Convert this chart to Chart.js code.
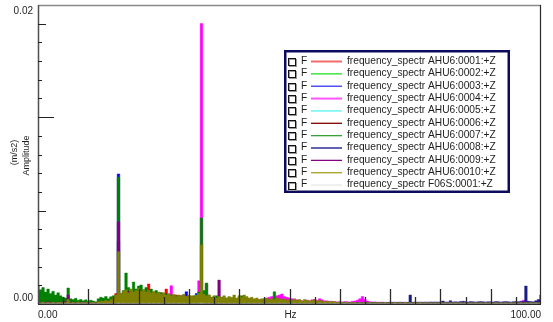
<!DOCTYPE html>
<html>
<head>
<meta charset="utf-8">
<script src="https://cdn.jsdelivr.net/npm/chart.js@4/dist/chart.umd.min.js"></script>
<style>
  html, body { margin: 0; padding: 0; background: #ffffff; }
  canvas { display: block; }
</style>
</head>
<body>
<canvas id="spectrum" width="553" height="322"></canvas>
<script>
// Frequency bins of the spectra (Hz)
const BIN_HZ = 0.5;
const freqHz = Array.from({ length: 201 }, (_, i) => i * BIN_HZ);

// Amplitudes are listed in units of 1e-5 m/s2, one row per 10 Hz
const AMP_UNIT = 1e-5;

const seriesNames = [
  'frequency_spectr AHU6:0001:+Z',
  'frequency_spectr AHU6:0002:+Z',
  'frequency_spectr AHU6:0003:+Z',
  'frequency_spectr AHU6:0004:+Z',
  'frequency_spectr AHU6:0005:+Z',
  'frequency_spectr AHU6:0006:+Z',
  'frequency_spectr AHU6:0007:+Z',
  'frequency_spectr AHU6:0008:+Z',
  'frequency_spectr AHU6:0009:+Z',
  'frequency_spectr AHU6:0010:+Z',
  'frequency_spectr F06S:0001:+Z'
];
const seriesColors = [
  '#ff0000', '#00e000', '#0000ff', '#ff00ff', '#00ffff', '#800000',
  '#008000', '#1c1c86', '#800080', '#808000', '#e4e4e4'
];
const legendColors = [
  '#f46a6a', '#22e022', '#3434f0', '#ff55ff', '#55f4f4', '#800000',
  '#38a038', '#6262b0', '#860086', '#a8a020', '#e6e6e6'
];

const amp0001 = [
  6,5,7,5,6,5,7,5,6,5,7,5,8,6,5,7,5,6,5,7,
  5,6,7,8,10,15,12,20,25,40,50,70,20,55,70,50,65,75,60,55,
  70,85,75,90,134,80,70,60,55,75,65,100,60,55,50,60,45,55,40,50,
  45,40,35,45,40,30,35,30,28,25,28,25,22,25,20,22,20,18,20,18,
  16,15,16,14,15,13,14,12,13,12,11,12,10,11,10,9,10,9,8,9,
  8,7,8,7,8,7,6,7,6,7,6,7,6,6,7,6,6,7,6,6,
  6,5,6,5,6,5,6,5,6,5,6,5,6,5,6,5,6,5,6,5,
  5,6,5,5,6,5,5,6,5,5,6,5,5,6,5,5,6,5,5,6,
  5,5,6,5,5,6,5,5,6,5,5,6,5,5,6,5,5,6,5,5,
  6,5,5,6,5,5,6,5,5,6,5,5,6,5,5,6,5,5,6,5,
  5
];
const amp0002 = [
  12,10,14,11,12,9,11,10,9,10,8,9,20,8,9,7,8,9,7,8,
  7,8,9,8,10,12,15,14,18,20,30,35,25,40,45,38,50,42,48,40,
  45,50,40,48,42,50,38,45,35,40,33,38,30,35,28,32,30,26,30,28,
  30,28,32,35,45,60,38,48,30,28,25,28,24,26,22,24,20,22,20,18,
  18,17,18,16,17,15,16,14,15,14,13,14,12,13,12,11,12,11,10,11,
  10,9,10,9,8,9,8,9,8,7,8,7,8,7,7,8,7,7,6,7,
  6,6,7,6,6,5,6,6,5,6,5,6,5,5,6,5,5,6,5,5,
  5,5,6,5,5,5,6,5,5,5,6,5,5,5,6,5,5,5,6,5,
  5,5,5,6,5,5,5,6,5,5,5,6,5,5,5,6,5,5,5,6,
  5,5,5,5,6,5,5,5,5,6,5,5,5,5,6,5,5,5,5,6,
  5
];
const amp0003 = [
  8,7,9,6,8,7,6,8,7,6,8,6,12,7,6,8,6,7,6,8,
  6,7,8,7,9,10,12,14,16,18,22,30,870,35,40,30,45,38,42,36,
  40,45,38,42,35,40,32,38,30,36,45,67,34,30,28,32,30,26,60,82,
  30,28,30,70,35,40,30,28,26,24,25,22,24,20,22,20,18,20,18,16,
  16,15,16,14,15,13,14,12,13,12,11,12,10,11,10,10,9,10,9,9,
  9,8,9,8,8,9,8,8,7,8,7,8,7,7,8,7,7,8,7,7,
  7,6,7,6,7,6,7,6,7,6,7,6,7,6,7,6,7,6,7,6,
  6,7,6,6,7,6,6,7,6,6,7,6,6,7,6,6,7,6,6,7,
  6,6,7,6,6,7,6,6,7,6,6,7,6,6,7,6,6,7,6,6,
  7,6,6,7,6,6,7,6,6,7,6,6,7,6,6,7,6,6,7,6,
  6
];
const amp0004 = [
  8,6,9,7,8,6,10,7,8,6,9,7,15,8,6,9,7,8,6,9,
  7,8,6,9,10,12,15,18,20,25,40,55,30,50,60,45,70,55,50,60,
  65,50,70,55,60,75,50,65,55,60,45,50,55,122,45,50,40,55,45,50,
  40,45,50,55,155,1876,60,134,45,40,35,40,30,35,30,28,30,25,28,25,
  25,22,25,20,22,20,25,22,28,30,35,40,45,50,40,55,60,67,50,45,
  40,35,30,28,25,22,20,25,22,28,30,25,35,28,22,20,18,15,16,14,
  15,14,16,15,13,18,20,25,35,50,30,20,15,12,14,12,11,12,10,11,
  10,11,9,10,11,9,10,9,10,9,10,9,10,9,8,9,8,9,8,9,
  8,9,8,9,8,9,8,9,8,12,15,10,8,9,8,9,8,9,10,8,
  9,8,9,12,10,9,8,9,8,10,14,12,10,25,20,12,10,9,8,9,
  8
];
const amp0005 = [
  5,4,6,5,4,5,6,4,5,4,6,5,8,5,4,5,6,4,5,4,
  5,6,5,6,8,10,9,12,14,16,20,25,30,28,32,26,30,28,25,30,
  28,32,26,30,25,28,24,27,22,25,20,24,20,22,18,21,18,20,17,19,
  18,17,19,20,25,40,22,28,18,17,16,17,15,16,14,15,13,14,12,13,
  12,11,12,10,11,10,11,9,10,9,10,9,8,9,8,9,8,8,7,8,
  7,7,8,7,7,6,7,7,6,7,6,6,7,6,6,7,6,6,5,6,
  5,6,5,5,6,5,5,6,5,5,6,5,5,6,5,5,6,5,5,6,
  5,5,6,5,5,6,5,5,6,5,5,6,5,5,6,5,5,6,5,5,
  6,5,5,6,5,5,6,5,5,6,5,5,6,5,5,6,5,5,6,5,
  5,6,5,5,6,5,5,6,5,5,6,5,5,6,5,5,6,5,5,6,
  5
];
const amp0006 = [
  10,8,9,7,8,7,9,6,8,7,6,8,25,7,6,8,6,7,6,8,
  6,7,8,7,9,12,10,14,16,20,28,35,40,38,45,40,50,44,48,42,
  46,50,44,48,40,46,38,42,36,40,34,38,32,36,30,34,28,32,27,30,
  28,26,30,32,38,70,35,40,28,26,24,26,22,24,20,22,19,20,18,17,
  16,15,16,14,15,13,14,12,13,12,11,12,10,11,10,9,10,9,8,9,
  8,8,9,8,8,7,8,7,7,8,7,7,6,7,6,7,6,6,7,6,
  6,5,6,5,6,5,6,5,6,5,6,5,6,5,6,5,6,5,6,5,
  5,5,6,5,5,6,5,5,6,5,5,6,5,5,6,5,5,6,5,5,
  5,6,5,5,6,5,5,6,5,5,6,5,5,6,5,5,6,5,5,6,
  5,5,6,5,5,6,5,5,6,5,5,6,5,5,6,5,5,6,5,5,
  5
];
const amp0007 = [
  120,95,110,80,100,70,85,60,75,55,45,40,107,35,30,38,25,30,22,28,
  18,25,20,15,35,45,40,50,35,48,55,60,850,70,90,207,110,80,147,100,
  120,127,95,110,85,100,70,90,60,75,55,65,50,60,45,55,50,40,55,45,
  50,40,55,60,80,575,90,140,60,45,40,55,35,45,30,40,35,30,40,35,
  40,55,30,35,25,30,25,30,20,25,20,25,20,25,82,30,20,18,15,18,
  15,12,14,10,12,10,13,10,12,10,11,9,10,8,10,9,8,10,8,9,
  8,7,9,7,8,6,8,7,6,8,7,6,7,6,8,6,7,6,5,7,
  6,5,7,6,5,6,5,7,5,6,5,6,5,5,6,5,6,5,5,6,
  5,6,5,5,6,5,5,6,5,5,6,5,5,6,5,5,6,5,5,6,
  5,5,6,5,5,6,5,5,6,5,5,6,5,5,6,5,5,6,5,5,
  5
];
const amp0008 = [
  9,8,10,8,9,7,8,7,9,7,8,7,18,7,8,7,6,8,7,6,
  7,6,8,7,8,10,12,11,14,15,20,25,420,30,35,28,40,32,36,30,
  34,38,30,35,28,32,26,30,25,28,24,26,22,25,20,23,20,22,19,21,
  20,19,21,22,28,45,24,30,20,19,18,19,17,18,16,17,15,16,14,15,
  14,13,14,12,13,12,13,11,12,11,12,11,10,11,10,10,9,10,9,10,
  9,9,10,9,9,10,9,9,10,9,9,10,9,9,10,9,9,10,9,9,
  10,9,10,9,10,9,10,9,11,10,11,10,11,10,11,10,11,10,11,10,
  12,11,12,11,12,11,12,11,60,12,13,12,13,12,13,12,14,13,14,13,
  14,20,14,13,22,14,15,14,16,18,15,14,16,15,14,15,16,15,14,15,
  15,14,16,15,14,15,16,15,14,15,16,15,18,16,120,18,16,15,22,30,
  60
];
const amp0009 = [
  10,8,12,10,15,12,10,8,10,9,12,15,60,12,10,8,10,12,9,10,
  8,10,9,8,12,15,14,18,20,25,35,50,550,60,75,55,85,60,70,55,
  80,60,70,55,65,50,60,45,55,40,50,45,55,40,50,45,40,35,45,40,
  40,35,45,40,50,60,45,40,35,40,30,35,160,35,30,28,25,30,25,28,
  25,22,25,20,22,20,18,20,18,16,18,15,16,14,15,14,13,14,12,13,
  12,11,12,10,11,10,11,10,9,10,9,8,9,8,9,8,7,8,7,8,
  7,6,7,6,7,6,7,6,7,6,7,6,7,6,7,6,7,6,7,6,
  6,6,7,6,6,7,6,6,7,6,6,7,6,6,7,6,6,7,6,6,
  7,6,6,7,6,6,7,6,6,7,6,6,7,6,6,7,6,6,7,6,
  6,7,6,6,7,6,6,7,6,6,7,6,6,7,6,6,7,6,6,7,
  6
];
const amp0010 = [
  10,8,12,9,10,8,11,9,10,12,8,10,30,9,10,8,12,10,9,11,
  8,10,12,9,15,20,18,25,20,30,45,60,350,70,85,95,75,100,80,90,
  105,85,95,80,90,75,85,70,80,65,75,60,70,55,65,50,60,55,65,50,
  60,55,50,60,70,395,65,55,60,45,55,40,50,45,55,40,50,45,60,40,
  55,45,60,50,40,45,35,40,30,35,30,40,30,35,30,40,35,30,35,25,
  30,25,35,25,30,20,30,25,20,25,30,20,25,20,15,20,15,18,15,12,
  15,12,10,12,9,11,10,8,10,9,11,8,10,9,8,10,9,8,10,8,
  9,8,10,8,9,8,10,8,9,8,9,8,10,8,9,8,9,8,9,8,
  9,8,9,8,9,8,9,8,9,8,9,8,9,8,9,8,9,8,9,8,
  9,8,9,8,9,8,9,8,9,8,9,8,9,8,9,8,9,8,9,8,
  9
];
const ampF06S = [
  5,4,5,4,5,4,5,4,5,4,5,4,5,4,5,4,5,4,5,4,
  5,4,5,4,5,4,5,4,5,4,5,4,6,4,5,4,5,4,5,4,
  5,4,5,4,5,4,5,4,5,4,5,4,5,4,5,4,5,4,5,4,
  5,4,5,4,5,6,5,4,5,4,5,4,5,4,5,4,5,4,5,4,
  5,4,5,4,5,4,5,4,5,4,5,4,5,4,5,4,5,4,5,4,
  5,4,5,4,5,4,5,4,5,4,5,4,5,4,5,4,5,4,5,4,
  5,4,5,4,5,4,5,4,5,4,5,4,5,4,5,4,5,4,5,4,
  5,4,5,4,5,4,5,4,5,4,5,4,5,4,5,4,5,4,5,4,
  5,4,5,4,5,4,5,4,5,4,5,4,5,4,5,4,5,4,5,4,
  5,4,5,4,5,4,5,4,5,4,5,4,5,4,5,4,5,4,5,4,
  5
];
const seriesAmps = [amp0001, amp0002, amp0003, amp0004, amp0005, amp0006,
                    amp0007, amp0008, amp0009, amp0010, ampF06S];

// Axis ranges and labels
const xRange = [0, 100];
const yRange = [0, 0.02];
const xTickLabels = ['0.00', 'Hz', '100.00'];
const yTickLabels = ['0.00', '0.02'];
const yTitle = ['Amplitude', '(m/s2)'];
const X_MINOR_HZ = 5;       // tick every 5 Hz, long tick every 10 Hz
const Y_MINOR = 0.00125;    // tick every 0.00125 m/s2

const FONT = '"Liberation Sans", Arial, sans-serif';
const INK = '#1e1e1e';

const datasets = seriesNames.map((name, i) => ({
  label: name,
  data: seriesAmps[i].map((v, k) => ({ x: freqHz[k], y: v * AMP_UNIT })),
  borderColor: seriesColors[i],
  backgroundColor: seriesColors[i],
  borderWidth: 0.5,
  fill: 'origin',
  stepped: 'middle',
  pointRadius: 0,
  order: seriesNames.length - i   // later series are painted over earlier ones
}));

const framePlugin = {
  id: 'framePlugin',
  afterDatasetsDraw(chart) {
    const { ctx, chartArea: a, scales: { x, y } } = chart;
    ctx.save();

    // top border
    ctx.strokeStyle = '#8a8a8a';
    ctx.lineWidth = 1.5;
    ctx.beginPath();
    ctx.moveTo(a.left, a.top + 0.5);
    ctx.lineTo(a.right, a.top + 0.5);
    ctx.stroke();

    // right border
    ctx.strokeStyle = '#2a2a2a';
    ctx.lineWidth = 1.2;
    ctx.beginPath();
    ctx.moveTo(a.right - 0.5, a.top);
    ctx.lineTo(a.right - 0.5, a.bottom);
    ctx.stroke();

    // left axis
    ctx.strokeStyle = '#505050';
    ctx.lineWidth = 1.5;
    ctx.beginPath();
    ctx.moveTo(a.left + 0.5, a.top);
    ctx.lineTo(a.left + 0.5, a.bottom);
    ctx.stroke();

    // bottom axis
    ctx.strokeStyle = '#2a2a2a';
    ctx.lineWidth = 1.5;
    ctx.beginPath();
    ctx.moveTo(a.left, a.bottom + 0.25);
    ctx.lineTo(a.right, a.bottom + 0.25);
    ctx.stroke();

    // y ticks
    ctx.strokeStyle = '#222';
    ctx.lineWidth = 1;
    const nY = Math.round((yRange[1] - yRange[0]) / Y_MINOR);
    for (let k = 1; k < nY; k++) {
      const py = Math.round(y.getPixelForValue(k * Y_MINOR)) + 0.5;
      const len = (k % 10 === 0) ? 16 : (k % 5 === 0 ? 8 : 4);
      ctx.beginPath();
      ctx.moveTo(a.left, py);
      ctx.lineTo(a.left + len, py);
      ctx.stroke();
    }

    // x ticks
    ctx.strokeStyle = '#2a2a2a';
    ctx.lineWidth = 1.3;
    for (let f = xRange[0] + X_MINOR_HZ; f < xRange[1]; f += X_MINOR_HZ) {
      const px = Math.round(x.getPixelForValue(f)) + 0.5;
      const len = (f % 10 === 0) ? 15 : 7;
      ctx.beginPath();
      ctx.moveTo(px, a.bottom);
      ctx.lineTo(px, a.bottom - len);
      ctx.stroke();
    }

    // tick labels
    ctx.fillStyle = INK;
    ctx.font = '10px ' + FONT;
    ctx.textBaseline = 'middle';
    ctx.textAlign = 'right';
    ctx.fillText(yTickLabels[0], a.left - 5, y.getPixelForValue(yRange[0]) - 6);
    ctx.fillText(yTickLabels[1], a.left - 5, y.getPixelForValue(yRange[1]) + 6);
    const ly = a.bottom + 11;
    ctx.textAlign = 'left';
    ctx.fillText(xTickLabels[0], x.getPixelForValue(xRange[0]), ly);
    ctx.textAlign = 'center';
    ctx.fillText(xTickLabels[1], (a.left + a.right) / 2 + 1, ly);
    ctx.textAlign = 'right';
    ctx.fillText(xTickLabels[2], x.getPixelForValue(xRange[1]), ly);

    // y title, rotated
    ctx.font = '9px ' + FONT;
    ctx.textAlign = 'center';
    ctx.save();
    ctx.translate(27, 155.5);
    ctx.rotate(-Math.PI / 2);
    ctx.fillText(yTitle[0], 0, 0);
    ctx.restore();
    ctx.save();
    ctx.translate(14.5, 152.5);
    ctx.rotate(-Math.PI / 2);
    ctx.fillText(yTitle[1], 0, 0);
    ctx.restore();

    ctx.restore();
  },
  afterDraw(chart) {
    const { ctx } = chart;
    ctx.save();
    // legend box
    const bx = 284, by = 50, bw = 226, bh = 143;
    ctx.fillStyle = '#ffffff';
    ctx.fillRect(bx, by, bw, bh);
    ctx.strokeStyle = '#0c0c5e';
    ctx.lineWidth = 2.5;
    ctx.strokeRect(bx + 1.25, by + 1.25, bw - 2.5, bh - 2.5);

    ctx.font = '10.2px ' + FONT;
    ctx.textBaseline = 'middle';
    ctx.textAlign = 'left';
    const row0 = 61, rowStep = 12.36;
    seriesNames.forEach((name, i) => {
      const ry = row0 + i * rowStep;
      // check box
      const cy = Math.round(ry - 3) + 0.5;
      ctx.lineWidth = 1;
      ctx.strokeStyle = '#9a9a9a';
      ctx.strokeRect(289.5, cy + 1, 7, 7);
      ctx.strokeStyle = '#111';
      ctx.strokeRect(288.5, cy, 7, 7);
      // label
      ctx.fillStyle = INK;
      ctx.fillText('F', 301, ry);
      // line sample
      ctx.strokeStyle = legendColors[i];
      ctx.lineWidth = (i === 0 || i === 7 || i === 3) ? 2 : 1.3;
      ctx.beginPath();
      ctx.moveTo(311, ry + 0.5);
      ctx.lineTo(342, ry + 0.5);
      ctx.stroke();
      ctx.fillStyle = INK;
      ctx.fillText(name, 347, ry);
    });
    ctx.restore();
  }
};

new Chart(document.getElementById('spectrum'), {
  type: 'line',
  data: { datasets },
  options: {
    responsive: false,
    animation: false,
    events: [],
    layout: { padding: { left: 38, right: 12, top: 5, bottom: 18 } },
    scales: {
      x: { type: 'linear', min: xRange[0], max: xRange[1], display: false },
      y: { type: 'linear', min: yRange[0], max: yRange[1], display: false }
    },
    plugins: { legend: { display: false }, tooltip: { enabled: false } }
  },
  plugins: [framePlugin]
});
</script>
</body>
</html>
